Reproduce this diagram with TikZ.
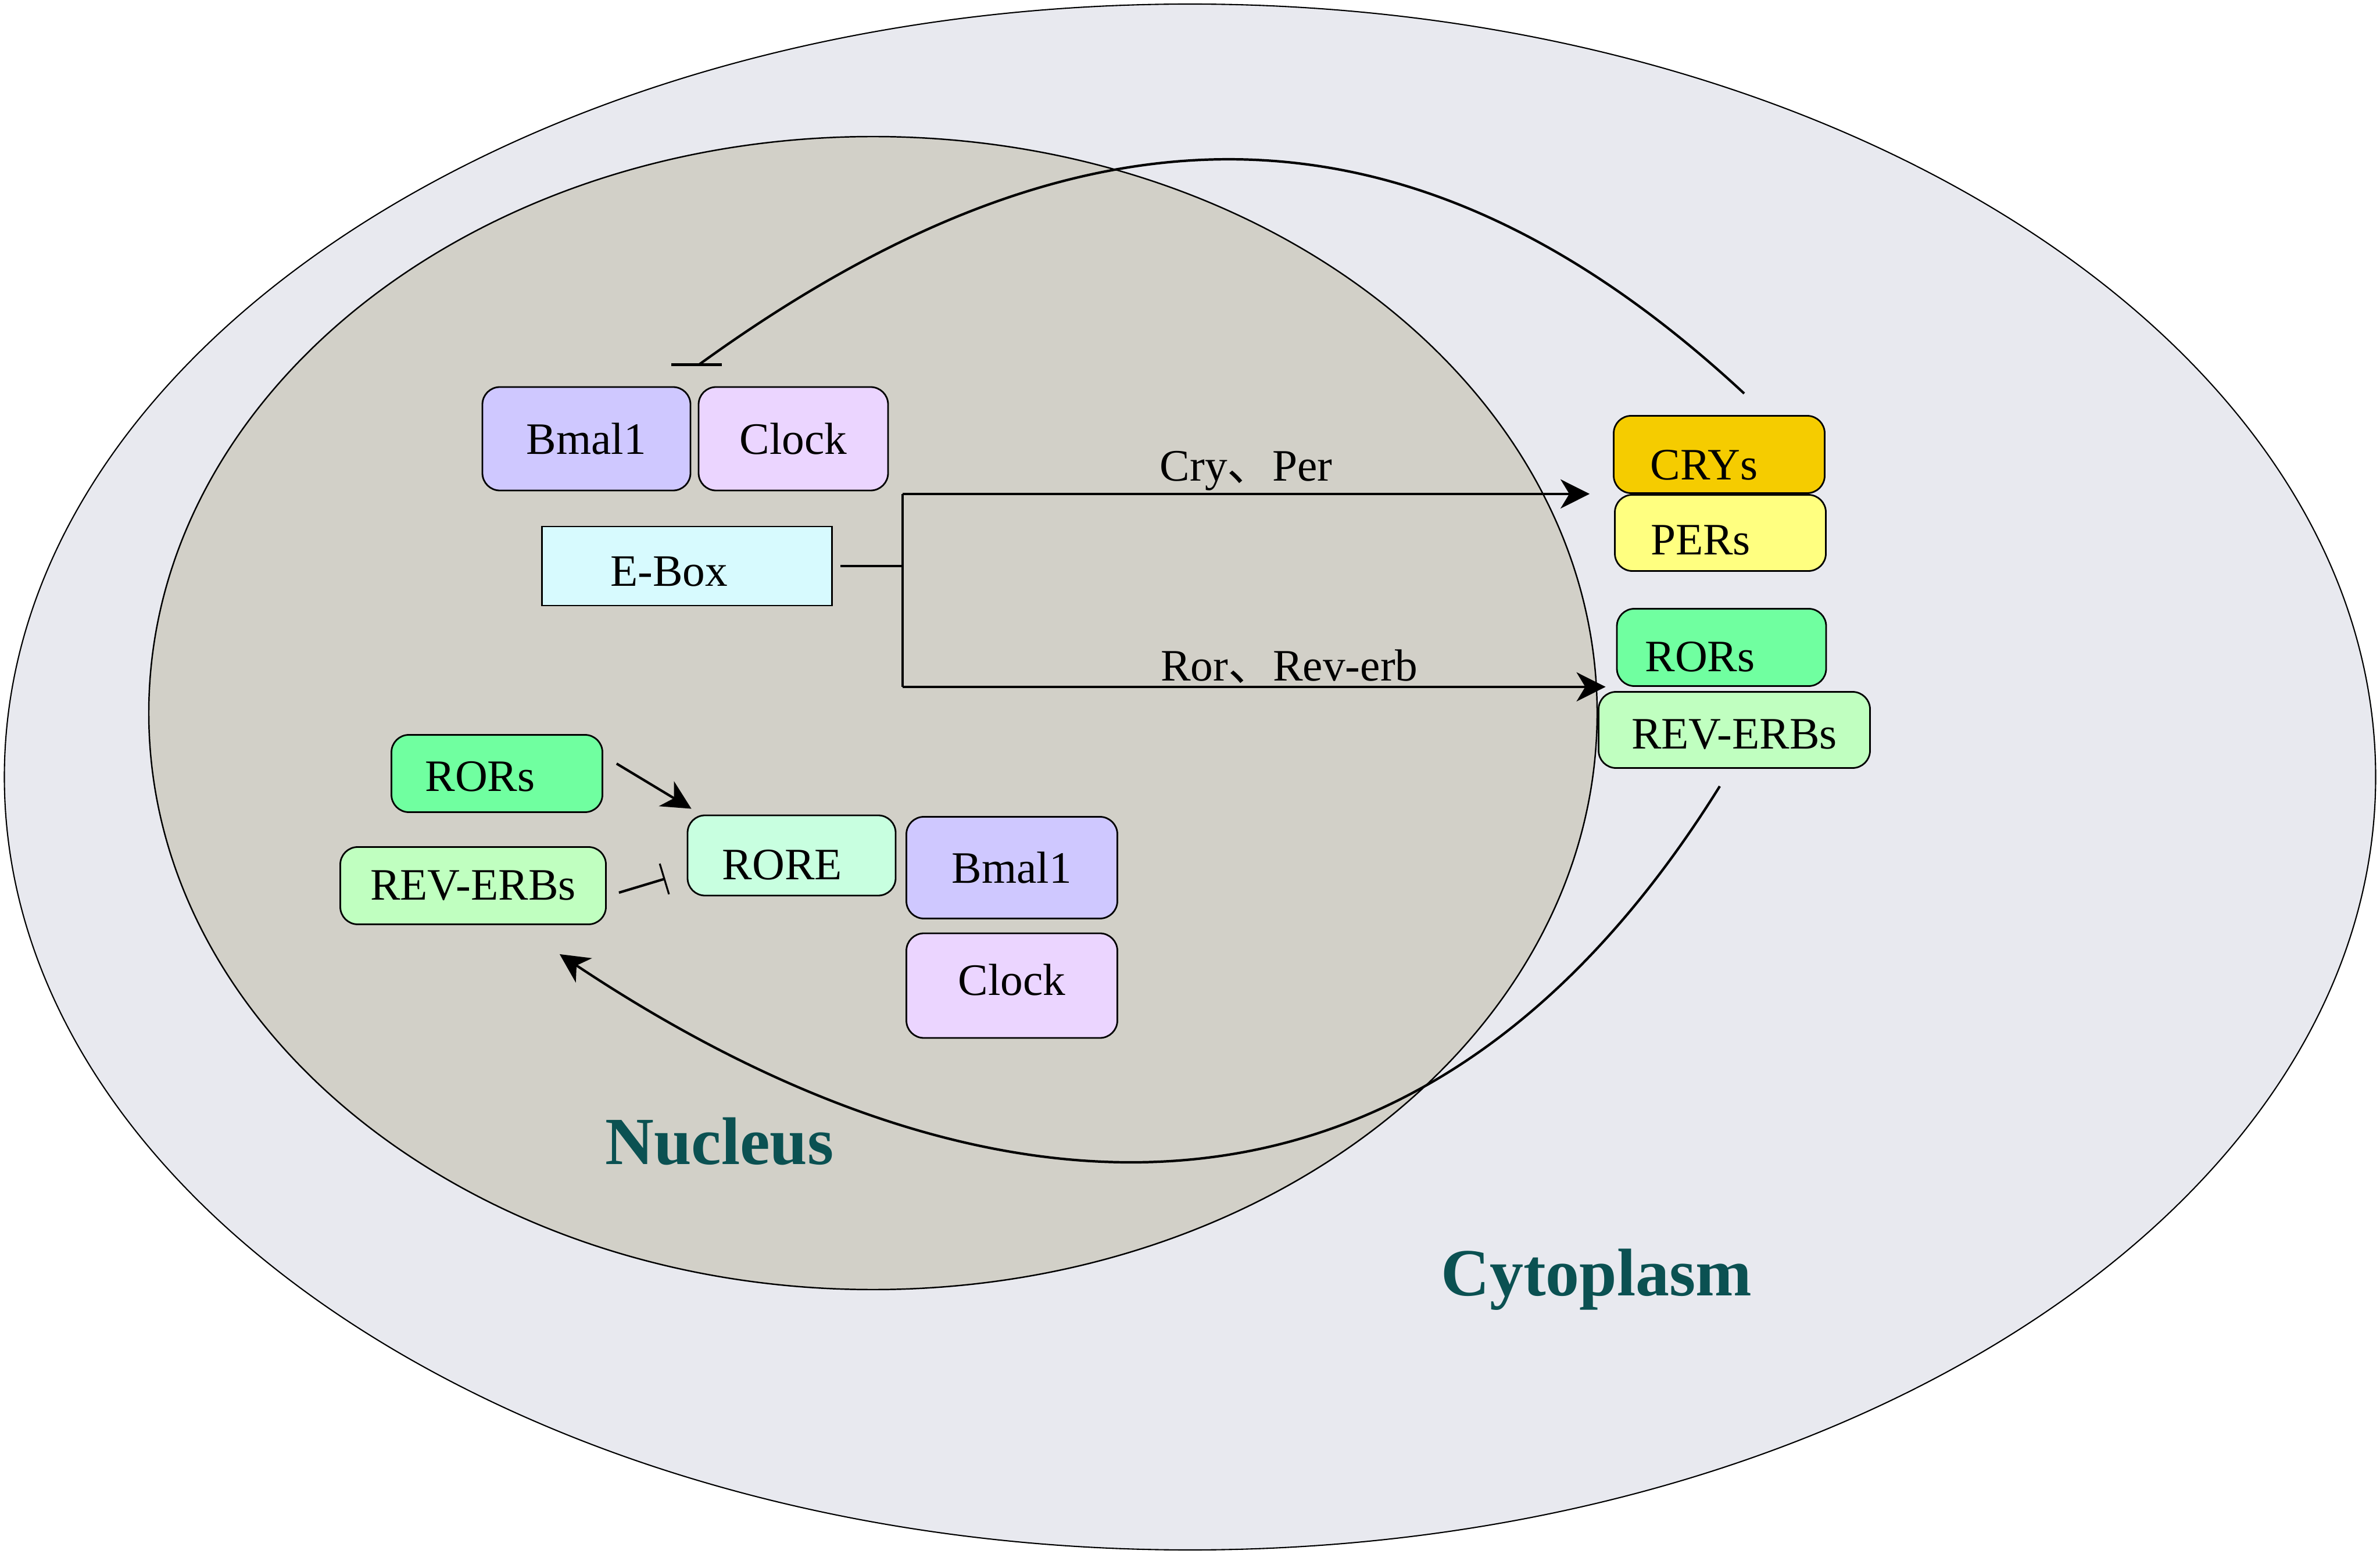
\documentclass[tikz,border=0pt]{standalone}
\usepackage{fontspec}
\setmainfont{Liberation Serif}
\newfontfamily\cjk{Noto Sans CJK SC}
\usepackage{tikz}
\usetikzlibrary{arrows.meta,positioning,calc}

\definecolor{cytofill}{RGB}{232,233,239}
\definecolor{nucfill}{RGB}{210,208,200}
\definecolor{bmalcol}{RGB}{207,200,255}
\definecolor{clockcol}{RGB}{235,213,255}
\definecolor{eboxcol}{RGB}{215,250,254}
\definecolor{crycol}{RGB}{245,204,0}
\definecolor{percol}{RGB}{255,255,128}
\definecolor{rorcol}{RGB}{112,255,160}
\definecolor{revcol}{RGB}{192,255,192}
\definecolor{rorecol}{RGB}{200,255,224}
\definecolor{teal}{RGB}{11,81,82}

% move a box text off centre
\newcommand{\nudge}[3]{\hspace*{#1}\raisebox{#2}[\height][\depth]{#3}}

\tikzset{
  box/.style={draw, line width=0.8pt, rounded corners=0.3cm, inner sep=0pt,
    minimum width=3.63cm, minimum height=1.33cm, font=\fontsize{22}{26}\selectfont},
  line/.style={line width=1.2pt},
  arr/.style={line width=1.2pt, -{Stealth[length=0.5cm, width=0.5cm, inset=0.15cm]}},
  inh/.style={line width=1.2pt, -{Bar[width=0.55cm, line width=0.9pt]}},
  region/.style={font=\fontsize{33}{38}\selectfont\bfseries, text=teal}
}

\begin{document}
\begin{tikzpicture}
	\useasboundingbox (0,0) rectangle (40.95,-26.74);
	
	% cell and nucleus
	\draw[fill=cytofill, line width=0.6pt] (20.475,-13.37) ellipse [x radius=20.40, y radius=13.30];
	\draw[fill=nucfill, line width=0.7pt] (15.02,-12.27) ellipse [x radius=12.46, y radius=9.92];
	
	\node[box, fill=bmalcol, minimum width=3.58cm, minimum height=1.78cm] (bmalt) at (10.09,-7.55) {Bmal1};
	\node[box, fill=clockcol, minimum width=3.26cm, minimum height=1.78cm] (clockt) at (13.65,-7.55) {Clock};
	\node[box, fill=eboxcol, rounded corners=0pt, minimum width=4.99cm, minimum height=1.36cm] (ebox) at (11.82,-9.74) {\nudge{-0.62cm}{-0.1cm}{E-Box}};
	
	\node[box, fill=crycol] (crys) at (29.58,-7.82) {\nudge{-0.52cm}{-0.18cm}{CRYs}};
	\node[box, fill=percol, minimum height=1.31cm] (pers) at (29.60,-9.17) {\nudge{-0.68cm}{-0.13cm}{PERs}};
	\node[box, fill=rorcol, minimum width=3.6cm] (rorr) at (29.62,-11.14) {\nudge{-0.74cm}{-0.16cm}{RORs}};
	\node[box, fill=revcol, minimum width=4.67cm, minimum height=1.31cm] (revr) at (29.84,-12.56) {\nudge{0cm}{-0.08cm}{REV-ERBs}};
	
	\node[box, fill=rorcol] (rorl) at (8.55,-13.31) {\nudge{-0.58cm}{-0.05cm}{RORs}};
	\node[box, fill=revcol, minimum width=4.57cm] (revl) at (8.14,-15.24) {REV-ERBs};
	\node[box, fill=rorecol, minimum width=3.58cm, minimum height=1.38cm] (rore) at (13.62,-14.72) {\nudge{-0.32cm}{-0.16cm}{RORE}};
	\node[box, fill=bmalcol, minimum height=1.75cm] (bmalb) at (17.41,-14.93) {Bmal1};
	\node[box, fill=clockcol, minimum height=1.80cm] (clockb) at (17.41,-16.96) {\nudge{0cm}{0.1cm}{Clock}};
	
	\node[region] (nuc) at (12.38,-19.64) {Nucleus};
	\node[region] (cyto) at (27.47,-22.02) {Cytoplasm};
	
	% E-Box outputs
	\coordinate (jn) at ([xshift=1.2cm]ebox.east);
	\coordinate (jtop) at (jn |- crys.south west);
	\coordinate (jbot) at (jn |- rorr.south west);
	\draw[line] ([xshift=0.13cm]ebox.east) -- (jn);
	\draw[line] (jtop) -- (jbot);
	\draw[arr] (jtop) -- ([xshift=-0.4cm]crys.south west) node[midway, above, inner sep=1pt, font=\fontsize{22}{26}\selectfont] {Cry{\cjk 、}Per};
	\draw[arr] (jbot) -- ([xshift=-0.18cm]rorr.south west) node[pos=0.55, above, inner sep=1pt, font=\fontsize{22}{26}\selectfont] {Ror{\cjk 、}Rev-erb};
	
	% RORE regulation
	\draw[arr] ([shift={(0.23,0.17)}]rorl.east) -- ([shift={(0.08,0.1)}]rore.north west);
	\draw[inh] ([shift={(0.21,-0.12)}]revl.east) -- ([shift={(-0.37,-0.4)}]rore.west);
	
	% feedback loops
	\coordinate (cryup) at ([shift={(0.43,0.37)}]crys.north);
	\coordinate (bartop) at ([shift={(0.13,0.37)}]bmalt.north east);
	\draw[line] (cryup) .. controls (24.13,-1.31) and (18.41,-1.65) .. (bartop);
	\draw[line] ([xshift=-0.47cm]bartop) -- ([xshift=0.4cm]bartop);
	
	\coordinate (revup) at ([shift={(-0.25,-0.3)}]revr.south);
	\coordinate (revtip) at ([shift={(-0.81,-0.5)}]revl.south east);
	\draw[arr] (revup) .. controls (23.9,-22.67) and (15.9,-20.6) .. (revtip);
	
\end{tikzpicture}
\end{document}
